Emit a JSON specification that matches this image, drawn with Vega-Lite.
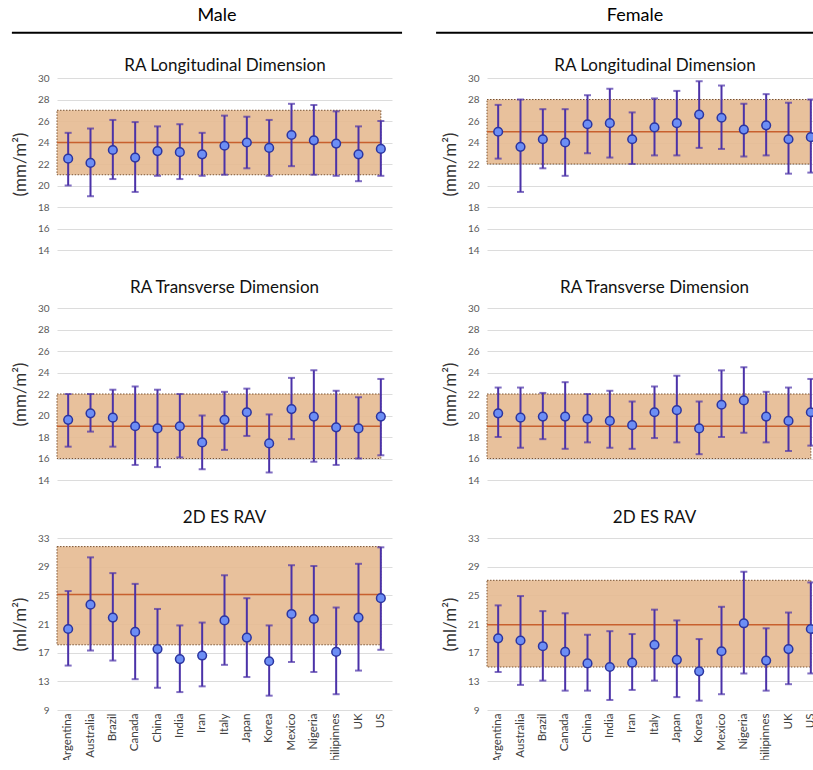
{
  "$schema": "https://vega.github.io/schema/vega-lite/v6.json",
  "padding": {"left": 10, "top": 6, "right": -8, "bottom": -8},
  "background": "white",
  "config": {
    "font": "Lato",
    "view": {"stroke": null},
    "title": {"font": "Lato", "fontSize": 17, "fontWeight": "normal", "color": "#111111"},
    "axis": {"labelFont": "Lato", "titleFont": "Lato"}
  },
  "datasets": {
    "obs": [
      {"sex": "Male", "metric": "long", "country": "Argentina", "mean": 22.5, "low": 20.0, "high": 24.9},
      {"sex": "Male", "metric": "long", "country": "Australia", "mean": 22.1, "low": 19.0, "high": 25.3},
      {"sex": "Male", "metric": "long", "country": "Brazil", "mean": 23.3, "low": 20.6, "high": 26.1},
      {"sex": "Male", "metric": "long", "country": "Canada", "mean": 22.6, "low": 19.4, "high": 25.9},
      {"sex": "Male", "metric": "long", "country": "China", "mean": 23.2, "low": 20.9, "high": 25.5},
      {"sex": "Male", "metric": "long", "country": "India", "mean": 23.1, "low": 20.6, "high": 25.7},
      {"sex": "Male", "metric": "long", "country": "Iran", "mean": 22.9, "low": 20.9, "high": 24.9},
      {"sex": "Male", "metric": "long", "country": "Italy", "mean": 23.7, "low": 21.0, "high": 26.5},
      {"sex": "Male", "metric": "long", "country": "Japan", "mean": 24.0, "low": 21.6, "high": 26.4},
      {"sex": "Male", "metric": "long", "country": "Korea", "mean": 23.5, "low": 20.9, "high": 26.1},
      {"sex": "Male", "metric": "long", "country": "Mexico", "mean": 24.7, "low": 21.8, "high": 27.6},
      {"sex": "Male", "metric": "long", "country": "Nigeria", "mean": 24.2, "low": 21.0, "high": 27.5},
      {"sex": "Male", "metric": "long", "country": "Philipinnes", "mean": 23.9, "low": 20.9, "high": 26.9},
      {"sex": "Male", "metric": "long", "country": "UK", "mean": 22.9, "low": 20.4, "high": 25.5},
      {"sex": "Male", "metric": "long", "country": "US", "mean": 23.4, "low": 20.9, "high": 26.0},

      {"sex": "Female", "metric": "long", "country": "Argentina", "mean": 25.0, "low": 22.5, "high": 27.5},
      {"sex": "Female", "metric": "long", "country": "Australia", "mean": 23.6, "low": 19.4, "high": 28.0},
      {"sex": "Female", "metric": "long", "country": "Brazil", "mean": 24.3, "low": 21.6, "high": 27.1},
      {"sex": "Female", "metric": "long", "country": "Canada", "mean": 24.0, "low": 20.9, "high": 27.1},
      {"sex": "Female", "metric": "long", "country": "China", "mean": 25.7, "low": 23.0, "high": 28.4},
      {"sex": "Female", "metric": "long", "country": "India", "mean": 25.8, "low": 22.6, "high": 29.0},
      {"sex": "Female", "metric": "long", "country": "Iran", "mean": 24.3, "low": 22.0, "high": 26.8},
      {"sex": "Female", "metric": "long", "country": "Italy", "mean": 25.4, "low": 22.8, "high": 28.1},
      {"sex": "Female", "metric": "long", "country": "Japan", "mean": 25.8, "low": 22.8, "high": 28.8},
      {"sex": "Female", "metric": "long", "country": "Korea", "mean": 26.6, "low": 23.5, "high": 29.7},
      {"sex": "Female", "metric": "long", "country": "Mexico", "mean": 26.3, "low": 23.4, "high": 29.3},
      {"sex": "Female", "metric": "long", "country": "Nigeria", "mean": 25.2, "low": 22.7, "high": 27.6},
      {"sex": "Female", "metric": "long", "country": "Philipinnes", "mean": 25.6, "low": 22.8, "high": 28.5},
      {"sex": "Female", "metric": "long", "country": "UK", "mean": 24.3, "low": 21.1, "high": 27.7},
      {"sex": "Female", "metric": "long", "country": "US", "mean": 24.5, "low": 21.2, "high": 28.0},

      {"sex": "Male", "metric": "trans", "country": "Argentina", "mean": 19.6, "low": 17.1, "high": 22.0},
      {"sex": "Male", "metric": "trans", "country": "Australia", "mean": 20.2, "low": 18.5, "high": 22.0},
      {"sex": "Male", "metric": "trans", "country": "Brazil", "mean": 19.8, "low": 17.1, "high": 22.4},
      {"sex": "Male", "metric": "trans", "country": "Canada", "mean": 19.0, "low": 15.4, "high": 22.7},
      {"sex": "Male", "metric": "trans", "country": "China", "mean": 18.8, "low": 15.2, "high": 22.4},
      {"sex": "Male", "metric": "trans", "country": "India", "mean": 19.0, "low": 16.1, "high": 22.0},
      {"sex": "Male", "metric": "trans", "country": "Iran", "mean": 17.5, "low": 15.0, "high": 20.0},
      {"sex": "Male", "metric": "trans", "country": "Italy", "mean": 19.6, "low": 16.8, "high": 22.2},
      {"sex": "Male", "metric": "trans", "country": "Japan", "mean": 20.3, "low": 18.1, "high": 22.5},
      {"sex": "Male", "metric": "trans", "country": "Korea", "mean": 17.4, "low": 14.7, "high": 20.1},
      {"sex": "Male", "metric": "trans", "country": "Mexico", "mean": 20.6, "low": 17.8, "high": 23.5},
      {"sex": "Male", "metric": "trans", "country": "Nigeria", "mean": 19.9, "low": 15.7, "high": 24.2},
      {"sex": "Male", "metric": "trans", "country": "Philipinnes", "mean": 18.9, "low": 15.4, "high": 22.3},
      {"sex": "Male", "metric": "trans", "country": "UK", "mean": 18.8, "low": 16.0, "high": 21.7},
      {"sex": "Male", "metric": "trans", "country": "US", "mean": 19.9, "low": 16.3, "high": 23.4},

      {"sex": "Female", "metric": "trans", "country": "Argentina", "mean": 20.2, "low": 18.0, "high": 22.6},
      {"sex": "Female", "metric": "trans", "country": "Australia", "mean": 19.8, "low": 17.0, "high": 22.6},
      {"sex": "Female", "metric": "trans", "country": "Brazil", "mean": 19.9, "low": 17.8, "high": 22.1},
      {"sex": "Female", "metric": "trans", "country": "Canada", "mean": 19.9, "low": 16.9, "high": 23.1},
      {"sex": "Female", "metric": "trans", "country": "China", "mean": 19.7, "low": 17.5, "high": 22.0},
      {"sex": "Female", "metric": "trans", "country": "India", "mean": 19.5, "low": 17.0, "high": 22.3},
      {"sex": "Female", "metric": "trans", "country": "Iran", "mean": 19.1, "low": 16.9, "high": 21.3},
      {"sex": "Female", "metric": "trans", "country": "Italy", "mean": 20.3, "low": 17.9, "high": 22.7},
      {"sex": "Female", "metric": "trans", "country": "Japan", "mean": 20.5, "low": 17.5, "high": 23.7},
      {"sex": "Female", "metric": "trans", "country": "Korea", "mean": 18.8, "low": 16.4, "high": 21.3},
      {"sex": "Female", "metric": "trans", "country": "Mexico", "mean": 21.0, "low": 18.0, "high": 24.2},
      {"sex": "Female", "metric": "trans", "country": "Nigeria", "mean": 21.4, "low": 18.4, "high": 24.5},
      {"sex": "Female", "metric": "trans", "country": "Philipinnes", "mean": 19.9, "low": 17.5, "high": 22.2},
      {"sex": "Female", "metric": "trans", "country": "UK", "mean": 19.5, "low": 16.7, "high": 22.6},
      {"sex": "Female", "metric": "trans", "country": "US", "mean": 20.3, "low": 17.2, "high": 23.4},

      {"sex": "Male", "metric": "rav", "country": "Argentina", "mean": 20.3, "low": 15.2, "high": 25.6},
      {"sex": "Male", "metric": "rav", "country": "Australia", "mean": 23.7, "low": 17.3, "high": 30.3},
      {"sex": "Male", "metric": "rav", "country": "Brazil", "mean": 21.9, "low": 15.9, "high": 28.1},
      {"sex": "Male", "metric": "rav", "country": "Canada", "mean": 19.9, "low": 13.3, "high": 26.6},
      {"sex": "Male", "metric": "rav", "country": "China", "mean": 17.5, "low": 12.1, "high": 23.1},
      {"sex": "Male", "metric": "rav", "country": "India", "mean": 16.1, "low": 11.5, "high": 20.8},
      {"sex": "Male", "metric": "rav", "country": "Iran", "mean": 16.6, "low": 12.3, "high": 21.2},
      {"sex": "Male", "metric": "rav", "country": "Italy", "mean": 21.5, "low": 15.3, "high": 27.8},
      {"sex": "Male", "metric": "rav", "country": "Japan", "mean": 19.1, "low": 13.6, "high": 24.6},
      {"sex": "Male", "metric": "rav", "country": "Korea", "mean": 15.8, "low": 11.0, "high": 20.8},
      {"sex": "Male", "metric": "rav", "country": "Mexico", "mean": 22.4, "low": 15.7, "high": 29.2},
      {"sex": "Male", "metric": "rav", "country": "Nigeria", "mean": 21.7, "low": 14.3, "high": 29.1},
      {"sex": "Male", "metric": "rav", "country": "Philipinnes", "mean": 17.1, "low": 11.2, "high": 23.3},
      {"sex": "Male", "metric": "rav", "country": "UK", "mean": 21.9, "low": 14.5, "high": 29.4},
      {"sex": "Male", "metric": "rav", "country": "US", "mean": 24.6, "low": 17.4, "high": 31.7},

      {"sex": "Female", "metric": "rav", "country": "Argentina", "mean": 19.0, "low": 14.3, "high": 23.6},
      {"sex": "Female", "metric": "rav", "country": "Australia", "mean": 18.7, "low": 12.5, "high": 24.9},
      {"sex": "Female", "metric": "rav", "country": "Brazil", "mean": 17.9, "low": 13.1, "high": 22.8},
      {"sex": "Female", "metric": "rav", "country": "Canada", "mean": 17.1, "low": 11.7, "high": 22.5},
      {"sex": "Female", "metric": "rav", "country": "China", "mean": 15.5, "low": 11.7, "high": 19.5},
      {"sex": "Female", "metric": "rav", "country": "India", "mean": 15.0, "low": 10.4, "high": 20.0},
      {"sex": "Female", "metric": "rav", "country": "Iran", "mean": 15.6, "low": 11.8, "high": 19.6},
      {"sex": "Female", "metric": "rav", "country": "Italy", "mean": 18.1, "low": 13.1, "high": 23.0},
      {"sex": "Female", "metric": "rav", "country": "Japan", "mean": 16.0, "low": 10.8, "high": 21.5},
      {"sex": "Female", "metric": "rav", "country": "Korea", "mean": 14.4, "low": 10.3, "high": 18.9},
      {"sex": "Female", "metric": "rav", "country": "Mexico", "mean": 17.2, "low": 11.2, "high": 23.4},
      {"sex": "Female", "metric": "rav", "country": "Nigeria", "mean": 21.1, "low": 14.1, "high": 28.3},
      {"sex": "Female", "metric": "rav", "country": "Philipinnes", "mean": 15.9, "low": 11.7, "high": 20.4},
      {"sex": "Female", "metric": "rav", "country": "UK", "mean": 17.5, "low": 12.6, "high": 22.6},
      {"sex": "Female", "metric": "rav", "country": "US", "mean": 20.3, "low": 14.1, "high": 26.8}
    ],
    "refs": [
      {"sex": "Male", "metric": "long", "low": 21.0, "high": 27.0, "mean": 24.0},
      {"sex": "Female", "metric": "long", "low": 22.0, "high": 28.0, "mean": 25.0},
      {"sex": "Male", "metric": "trans", "low": 16.0, "high": 22.0, "mean": 19.0},
      {"sex": "Female", "metric": "trans", "low": 16.0, "high": 22.0, "mean": 19.0},
      {"sex": "Male", "metric": "rav", "low": 18.1, "high": 31.8, "mean": 25.1},
      {"sex": "Female", "metric": "rav", "low": 15.0, "high": 27.1, "mean": 20.9}
    ]
  },
  "spacing": 31,
  "hconcat": [
    {
      "title": {"text": "Male", "fontSize": 18, "fontWeight": "normal", "color": "#000000", "anchor": "middle", "dx": 10, "offset": 7},
      "spacing": 24,
      "vconcat": [
        {
          "width": 335, "height": 172,
          "layer": [
            {"data": {"name": "refs"}, "transform": [{"filter": "datum.sex == 'Male' && datum.metric == 'long'"}],
             "mark": {"type": "rect", "fill": "#E6BA91", "fillOpacity": 0.9, "stroke": "#7A5230", "strokeDash": [1.5, 1.5], "strokeWidth": 1},
             "encoding": {
               "x": {"datum": "Argentina", "type": "nominal", "bandPosition": 0,
                     "scale": {"type": "band", "domain": ["Argentina","Australia","Brazil","Canada","China","India","Iran","Italy","Japan","Korea","Mexico","Nigeria","Philipinnes","UK","US"], "paddingInner": 0, "paddingOuter": 0},
                     "axis": {"orient": "top", "title": "RA Longitudinal Dimension", "labels": false, "ticks": false, "domain": false, "grid": false, "titleFontSize": 17, "titleFontWeight": "normal", "titleColor": "#111111", "titlePadding": 4}},
               "x2": {"datum": "US", "bandPosition": 0.5},
               "y": {"field": "low", "type": "quantitative",
                     "scale": {"domain": [14, 30], "nice": false, "zero": false},
                     "axis": {"title": "(mm/m²)", "values": [14,16,18,20,22,24,26,28,30], "tickCount": 30, "format": "d", "labelOverlap": false, "grid": true, "gridColor": "#dcdcdc", "domain": false, "ticks": false, "labelFontSize": 10, "labelColor": "#595959", "labelPadding": 8, "titleFontSize": 17, "titleFontWeight": "normal", "titleColor": "#333333", "titlePadding": 8}},
               "y2": {"field": "high"}
             }},
            {"data": {"name": "refs"}, "transform": [{"filter": "datum.sex == 'Male' && datum.metric == 'long'"}],
             "mark": {"type": "rule", "stroke": "#C8602E", "strokeWidth": 1.5},
             "encoding": {"x": {"datum": "Argentina", "type": "nominal", "bandPosition": 0}, "x2": {"datum": "US", "bandPosition": 0.5}, "y": {"field": "mean", "type": "quantitative"}}},
            {"data": {"name": "refs"}, "transform": [{"filter": "datum.sex == 'Male' && datum.metric == 'long'"}],
             "mark": {"type": "rule", "stroke": "#000000", "strokeWidth": 2, "clip": false},
             "encoding": {"x": {"datum": "Argentina", "type": "nominal", "bandPosition": -2.02}, "x2": {"datum": "US", "bandPosition": 1.45}, "y": {"datum": 34.2, "type": "quantitative"}}},
            {"data": {"name": "obs"}, "transform": [{"filter": "datum.sex == 'Male' && datum.metric == 'long'"}],
             "mark": {"type": "rule", "stroke": "#4B32A8", "strokeWidth": 2},
             "encoding": {"x": {"field": "country", "type": "nominal"}, "y": {"field": "low", "type": "quantitative"}, "y2": {"field": "high"}}},
            {"data": {"name": "obs"}, "transform": [{"filter": "datum.sex == 'Male' && datum.metric == 'long'"}],
             "mark": {"type": "tick", "orient": "horizontal", "size": 7, "thickness": 2, "color": "#4B32A8"},
             "encoding": {"x": {"field": "country", "type": "nominal"}, "y": {"field": "low", "type": "quantitative"}}},
            {"data": {"name": "obs"}, "transform": [{"filter": "datum.sex == 'Male' && datum.metric == 'long'"}],
             "mark": {"type": "tick", "orient": "horizontal", "size": 7, "thickness": 2, "color": "#4B32A8"},
             "encoding": {"x": {"field": "country", "type": "nominal"}, "y": {"field": "high", "type": "quantitative"}}},
            {"data": {"name": "obs"}, "transform": [{"filter": "datum.sex == 'Male' && datum.metric == 'long'"}],
             "mark": {"type": "point", "shape": "circle", "filled": true, "size": 75, "fill": "#6C8EF5", "stroke": "#2B35A0", "strokeWidth": 1.5, "opacity": 1},
             "encoding": {"x": {"field": "country", "type": "nominal"}, "y": {"field": "mean", "type": "quantitative"}}}
          ]
        },
        {
          "width": 335, "height": 172,
          "title": {"text": "RA Transverse Dimension", "offset": 6},
          "layer": [
            {"data": {"name": "refs"}, "transform": [{"filter": "datum.sex == 'Male' && datum.metric == 'trans'"}],
             "mark": {"type": "rect", "fill": "#E6BA91", "fillOpacity": 0.9, "stroke": "#7A5230", "strokeDash": [1.5, 1.5], "strokeWidth": 1},
             "encoding": {
               "x": {"datum": "Argentina", "type": "nominal", "bandPosition": 0,
                     "scale": {"type": "band", "domain": ["Argentina","Australia","Brazil","Canada","China","India","Iran","Italy","Japan","Korea","Mexico","Nigeria","Philipinnes","UK","US"], "paddingInner": 0, "paddingOuter": 0},
                     "axis": null},
               "x2": {"datum": "US", "bandPosition": 0.5},
               "y": {"field": "low", "type": "quantitative",
                     "scale": {"domain": [14, 30], "nice": false, "zero": false},
                     "axis": {"title": "(mm/m²)", "values": [14,16,18,20,22,24,26,28,30], "tickCount": 30, "format": "d", "labelOverlap": false, "grid": true, "gridColor": "#dcdcdc", "domain": false, "ticks": false, "labelFontSize": 10, "labelColor": "#595959", "labelPadding": 8, "titleFontSize": 17, "titleFontWeight": "normal", "titleColor": "#333333", "titlePadding": 8}},
               "y2": {"field": "high"}
             }},
            {"data": {"name": "refs"}, "transform": [{"filter": "datum.sex == 'Male' && datum.metric == 'trans'"}],
             "mark": {"type": "rule", "stroke": "#C8602E", "strokeWidth": 1.5},
             "encoding": {"x": {"datum": "Argentina", "type": "nominal", "bandPosition": 0}, "x2": {"datum": "US", "bandPosition": 0.5}, "y": {"field": "mean", "type": "quantitative"}}},
            {"data": {"name": "obs"}, "transform": [{"filter": "datum.sex == 'Male' && datum.metric == 'trans'"}],
             "mark": {"type": "rule", "stroke": "#4B32A8", "strokeWidth": 2},
             "encoding": {"x": {"field": "country", "type": "nominal"}, "y": {"field": "low", "type": "quantitative"}, "y2": {"field": "high"}}},
            {"data": {"name": "obs"}, "transform": [{"filter": "datum.sex == 'Male' && datum.metric == 'trans'"}],
             "mark": {"type": "tick", "orient": "horizontal", "size": 7, "thickness": 2, "color": "#4B32A8"},
             "encoding": {"x": {"field": "country", "type": "nominal"}, "y": {"field": "low", "type": "quantitative"}}},
            {"data": {"name": "obs"}, "transform": [{"filter": "datum.sex == 'Male' && datum.metric == 'trans'"}],
             "mark": {"type": "tick", "orient": "horizontal", "size": 7, "thickness": 2, "color": "#4B32A8"},
             "encoding": {"x": {"field": "country", "type": "nominal"}, "y": {"field": "high", "type": "quantitative"}}},
            {"data": {"name": "obs"}, "transform": [{"filter": "datum.sex == 'Male' && datum.metric == 'trans'"}],
             "mark": {"type": "point", "shape": "circle", "filled": true, "size": 75, "fill": "#6C8EF5", "stroke": "#2B35A0", "strokeWidth": 1.5, "opacity": 1},
             "encoding": {"x": {"field": "country", "type": "nominal"}, "y": {"field": "mean", "type": "quantitative"}}}
          ]
        },
        {
          "width": 335, "height": 172,
          "title": {"text": "2D ES RAV", "offset": 6},
          "layer": [
            {"data": {"name": "refs"}, "transform": [{"filter": "datum.sex == 'Male' && datum.metric == 'rav'"}],
             "mark": {"type": "rect", "fill": "#E6BA91", "fillOpacity": 0.9, "stroke": "#7A5230", "strokeDash": [1.5, 1.5], "strokeWidth": 1},
             "encoding": {
               "x": {"datum": "Argentina", "type": "nominal", "bandPosition": 0,
                     "scale": {"type": "band", "domain": ["Argentina","Australia","Brazil","Canada","China","India","Iran","Italy","Japan","Korea","Mexico","Nigeria","Philipinnes","UK","US"], "paddingInner": 0, "paddingOuter": 0},
                     "axis": {"title": null, "labelAngle": -90, "labelFontSize": 11.5, "labelColor": "#404040", "ticks": false, "domain": false, "grid": false, "labelPadding": 3}},
               "x2": {"datum": "US", "bandPosition": 0.5},
               "y": {"field": "low", "type": "quantitative",
                     "scale": {"domain": [9, 33], "nice": false, "zero": false},
                     "axis": {"title": "(ml/m²)", "values": [9,13,17,21,25,29,33], "tickCount": 30, "format": "d", "labelOverlap": false, "grid": true, "gridColor": "#dcdcdc", "domain": false, "ticks": false, "labelFontSize": 10, "labelColor": "#595959", "labelPadding": 8, "titleFontSize": 17, "titleFontWeight": "normal", "titleColor": "#333333", "titlePadding": 8}},
               "y2": {"field": "high"}
             }},
            {"data": {"name": "refs"}, "transform": [{"filter": "datum.sex == 'Male' && datum.metric == 'rav'"}],
             "mark": {"type": "rule", "stroke": "#C8602E", "strokeWidth": 1.5},
             "encoding": {"x": {"datum": "Argentina", "type": "nominal", "bandPosition": 0}, "x2": {"datum": "US", "bandPosition": 0.5}, "y": {"field": "mean", "type": "quantitative"}}},
            {"data": {"name": "obs"}, "transform": [{"filter": "datum.sex == 'Male' && datum.metric == 'rav'"}],
             "mark": {"type": "rule", "stroke": "#4B32A8", "strokeWidth": 2},
             "encoding": {"x": {"field": "country", "type": "nominal"}, "y": {"field": "low", "type": "quantitative"}, "y2": {"field": "high"}}},
            {"data": {"name": "obs"}, "transform": [{"filter": "datum.sex == 'Male' && datum.metric == 'rav'"}],
             "mark": {"type": "tick", "orient": "horizontal", "size": 7, "thickness": 2, "color": "#4B32A8"},
             "encoding": {"x": {"field": "country", "type": "nominal"}, "y": {"field": "low", "type": "quantitative"}}},
            {"data": {"name": "obs"}, "transform": [{"filter": "datum.sex == 'Male' && datum.metric == 'rav'"}],
             "mark": {"type": "tick", "orient": "horizontal", "size": 7, "thickness": 2, "color": "#4B32A8"},
             "encoding": {"x": {"field": "country", "type": "nominal"}, "y": {"field": "high", "type": "quantitative"}}},
            {"data": {"name": "obs"}, "transform": [{"filter": "datum.sex == 'Male' && datum.metric == 'rav'"}],
             "mark": {"type": "point", "shape": "circle", "filled": true, "size": 75, "fill": "#6C8EF5", "stroke": "#2B35A0", "strokeWidth": 1.5, "opacity": 1},
             "encoding": {"x": {"field": "country", "type": "nominal"}, "y": {"field": "mean", "type": "quantitative"}}}
          ]
        }
      ]
    },
    {
      "title": {"text": "Female", "fontSize": 18, "fontWeight": "normal", "color": "#000000", "anchor": "middle", "dx": 6, "offset": 7},
      "spacing": 24,
      "vconcat": [
        {
          "width": 335, "height": 172,
          "layer": [
            {"data": {"name": "refs"}, "transform": [{"filter": "datum.sex == 'Female' && datum.metric == 'long'"}],
             "mark": {"type": "rect", "fill": "#E6BA91", "fillOpacity": 0.9, "stroke": "#7A5230", "strokeDash": [1.5, 1.5], "strokeWidth": 1},
             "encoding": {
               "x": {"datum": "Argentina", "type": "nominal", "bandPosition": 0,
                     "scale": {"type": "band", "domain": ["Argentina","Australia","Brazil","Canada","China","India","Iran","Italy","Japan","Korea","Mexico","Nigeria","Philipinnes","UK","US"], "paddingInner": 0, "paddingOuter": 0},
                     "axis": {"orient": "top", "title": "RA Longitudinal Dimension", "labels": false, "ticks": false, "domain": false, "grid": false, "titleFontSize": 17, "titleFontWeight": "normal", "titleColor": "#111111", "titlePadding": 4}},
               "x2": {"datum": "US", "bandPosition": 0.5},
               "y": {"field": "low", "type": "quantitative",
                     "scale": {"domain": [14, 30], "nice": false, "zero": false},
                     "axis": {"title": "(mm/m²)", "values": [14,16,18,20,22,24,26,28,30], "tickCount": 30, "format": "d", "labelOverlap": false, "grid": true, "gridColor": "#dcdcdc", "domain": false, "ticks": false, "labelFontSize": 10, "labelColor": "#595959", "labelPadding": 8, "titleFontSize": 17, "titleFontWeight": "normal", "titleColor": "#333333", "titlePadding": 8}},
               "y2": {"field": "high"}
             }},
            {"data": {"name": "refs"}, "transform": [{"filter": "datum.sex == 'Female' && datum.metric == 'long'"}],
             "mark": {"type": "rule", "stroke": "#C8602E", "strokeWidth": 1.5},
             "encoding": {"x": {"datum": "Argentina", "type": "nominal", "bandPosition": 0}, "x2": {"datum": "US", "bandPosition": 0.5}, "y": {"field": "mean", "type": "quantitative"}}},
            {"data": {"name": "refs"}, "transform": [{"filter": "datum.sex == 'Female' && datum.metric == 'long'"}],
             "mark": {"type": "rule", "stroke": "#000000", "strokeWidth": 2, "clip": false},
             "encoding": {"x": {"datum": "Argentina", "type": "nominal", "bandPosition": -2.28}, "x2": {"datum": "US", "bandPosition": 1.0}, "y": {"datum": 34.2, "type": "quantitative"}}},
            {"data": {"name": "obs"}, "transform": [{"filter": "datum.sex == 'Female' && datum.metric == 'long'"}],
             "mark": {"type": "rule", "stroke": "#4B32A8", "strokeWidth": 2},
             "encoding": {"x": {"field": "country", "type": "nominal"}, "y": {"field": "low", "type": "quantitative"}, "y2": {"field": "high"}}},
            {"data": {"name": "obs"}, "transform": [{"filter": "datum.sex == 'Female' && datum.metric == 'long'"}],
             "mark": {"type": "tick", "orient": "horizontal", "size": 7, "thickness": 2, "color": "#4B32A8"},
             "encoding": {"x": {"field": "country", "type": "nominal"}, "y": {"field": "low", "type": "quantitative"}}},
            {"data": {"name": "obs"}, "transform": [{"filter": "datum.sex == 'Female' && datum.metric == 'long'"}],
             "mark": {"type": "tick", "orient": "horizontal", "size": 7, "thickness": 2, "color": "#4B32A8"},
             "encoding": {"x": {"field": "country", "type": "nominal"}, "y": {"field": "high", "type": "quantitative"}}},
            {"data": {"name": "obs"}, "transform": [{"filter": "datum.sex == 'Female' && datum.metric == 'long'"}],
             "mark": {"type": "point", "shape": "circle", "filled": true, "size": 75, "fill": "#6C8EF5", "stroke": "#2B35A0", "strokeWidth": 1.5, "opacity": 1},
             "encoding": {"x": {"field": "country", "type": "nominal"}, "y": {"field": "mean", "type": "quantitative"}}}
          ]
        },
        {
          "width": 335, "height": 172,
          "title": {"text": "RA Transverse Dimension", "offset": 6},
          "layer": [
            {"data": {"name": "refs"}, "transform": [{"filter": "datum.sex == 'Female' && datum.metric == 'trans'"}],
             "mark": {"type": "rect", "fill": "#E6BA91", "fillOpacity": 0.9, "stroke": "#7A5230", "strokeDash": [1.5, 1.5], "strokeWidth": 1},
             "encoding": {
               "x": {"datum": "Argentina", "type": "nominal", "bandPosition": 0,
                     "scale": {"type": "band", "domain": ["Argentina","Australia","Brazil","Canada","China","India","Iran","Italy","Japan","Korea","Mexico","Nigeria","Philipinnes","UK","US"], "paddingInner": 0, "paddingOuter": 0},
                     "axis": null},
               "x2": {"datum": "US", "bandPosition": 0.5},
               "y": {"field": "low", "type": "quantitative",
                     "scale": {"domain": [14, 30], "nice": false, "zero": false},
                     "axis": {"title": "(mm/m²)", "values": [14,16,18,20,22,24,26,28,30], "tickCount": 30, "format": "d", "labelOverlap": false, "grid": true, "gridColor": "#dcdcdc", "domain": false, "ticks": false, "labelFontSize": 10, "labelColor": "#595959", "labelPadding": 8, "titleFontSize": 17, "titleFontWeight": "normal", "titleColor": "#333333", "titlePadding": 8}},
               "y2": {"field": "high"}
             }},
            {"data": {"name": "refs"}, "transform": [{"filter": "datum.sex == 'Female' && datum.metric == 'trans'"}],
             "mark": {"type": "rule", "stroke": "#C8602E", "strokeWidth": 1.5},
             "encoding": {"x": {"datum": "Argentina", "type": "nominal", "bandPosition": 0}, "x2": {"datum": "US", "bandPosition": 0.5}, "y": {"field": "mean", "type": "quantitative"}}},
            {"data": {"name": "obs"}, "transform": [{"filter": "datum.sex == 'Female' && datum.metric == 'trans'"}],
             "mark": {"type": "rule", "stroke": "#4B32A8", "strokeWidth": 2},
             "encoding": {"x": {"field": "country", "type": "nominal"}, "y": {"field": "low", "type": "quantitative"}, "y2": {"field": "high"}}},
            {"data": {"name": "obs"}, "transform": [{"filter": "datum.sex == 'Female' && datum.metric == 'trans'"}],
             "mark": {"type": "tick", "orient": "horizontal", "size": 7, "thickness": 2, "color": "#4B32A8"},
             "encoding": {"x": {"field": "country", "type": "nominal"}, "y": {"field": "low", "type": "quantitative"}}},
            {"data": {"name": "obs"}, "transform": [{"filter": "datum.sex == 'Female' && datum.metric == 'trans'"}],
             "mark": {"type": "tick", "orient": "horizontal", "size": 7, "thickness": 2, "color": "#4B32A8"},
             "encoding": {"x": {"field": "country", "type": "nominal"}, "y": {"field": "high", "type": "quantitative"}}},
            {"data": {"name": "obs"}, "transform": [{"filter": "datum.sex == 'Female' && datum.metric == 'trans'"}],
             "mark": {"type": "point", "shape": "circle", "filled": true, "size": 75, "fill": "#6C8EF5", "stroke": "#2B35A0", "strokeWidth": 1.5, "opacity": 1},
             "encoding": {"x": {"field": "country", "type": "nominal"}, "y": {"field": "mean", "type": "quantitative"}}}
          ]
        },
        {
          "width": 335, "height": 172,
          "title": {"text": "2D ES RAV", "offset": 6},
          "layer": [
            {"data": {"name": "refs"}, "transform": [{"filter": "datum.sex == 'Female' && datum.metric == 'rav'"}],
             "mark": {"type": "rect", "fill": "#E6BA91", "fillOpacity": 0.9, "stroke": "#7A5230", "strokeDash": [1.5, 1.5], "strokeWidth": 1},
             "encoding": {
               "x": {"datum": "Argentina", "type": "nominal", "bandPosition": 0,
                     "scale": {"type": "band", "domain": ["Argentina","Australia","Brazil","Canada","China","India","Iran","Italy","Japan","Korea","Mexico","Nigeria","Philipinnes","UK","US"], "paddingInner": 0, "paddingOuter": 0},
                     "axis": {"title": null, "labelAngle": -90, "labelFontSize": 11.5, "labelColor": "#404040", "ticks": false, "domain": false, "grid": false, "labelPadding": 3}},
               "x2": {"datum": "US", "bandPosition": 0.5},
               "y": {"field": "low", "type": "quantitative",
                     "scale": {"domain": [9, 33], "nice": false, "zero": false},
                     "axis": {"title": "(ml/m²)", "values": [9,13,17,21,25,29,33], "tickCount": 30, "format": "d", "labelOverlap": false, "grid": true, "gridColor": "#dcdcdc", "domain": false, "ticks": false, "labelFontSize": 10, "labelColor": "#595959", "labelPadding": 8, "titleFontSize": 17, "titleFontWeight": "normal", "titleColor": "#333333", "titlePadding": 8}},
               "y2": {"field": "high"}
             }},
            {"data": {"name": "refs"}, "transform": [{"filter": "datum.sex == 'Female' && datum.metric == 'rav'"}],
             "mark": {"type": "rule", "stroke": "#C8602E", "strokeWidth": 1.5},
             "encoding": {"x": {"datum": "Argentina", "type": "nominal", "bandPosition": 0}, "x2": {"datum": "US", "bandPosition": 0.5}, "y": {"field": "mean", "type": "quantitative"}}},
            {"data": {"name": "obs"}, "transform": [{"filter": "datum.sex == 'Female' && datum.metric == 'rav'"}],
             "mark": {"type": "rule", "stroke": "#4B32A8", "strokeWidth": 2},
             "encoding": {"x": {"field": "country", "type": "nominal"}, "y": {"field": "low", "type": "quantitative"}, "y2": {"field": "high"}}},
            {"data": {"name": "obs"}, "transform": [{"filter": "datum.sex == 'Female' && datum.metric == 'rav'"}],
             "mark": {"type": "tick", "orient": "horizontal", "size": 7, "thickness": 2, "color": "#4B32A8"},
             "encoding": {"x": {"field": "country", "type": "nominal"}, "y": {"field": "low", "type": "quantitative"}}},
            {"data": {"name": "obs"}, "transform": [{"filter": "datum.sex == 'Female' && datum.metric == 'rav'"}],
             "mark": {"type": "tick", "orient": "horizontal", "size": 7, "thickness": 2, "color": "#4B32A8"},
             "encoding": {"x": {"field": "country", "type": "nominal"}, "y": {"field": "high", "type": "quantitative"}}},
            {"data": {"name": "obs"}, "transform": [{"filter": "datum.sex == 'Female' && datum.metric == 'rav'"}],
             "mark": {"type": "point", "shape": "circle", "filled": true, "size": 75, "fill": "#6C8EF5", "stroke": "#2B35A0", "strokeWidth": 1.5, "opacity": 1},
             "encoding": {"x": {"field": "country", "type": "nominal"}, "y": {"field": "mean", "type": "quantitative"}}}
          ]
        }
      ]
    }
  ]
}
